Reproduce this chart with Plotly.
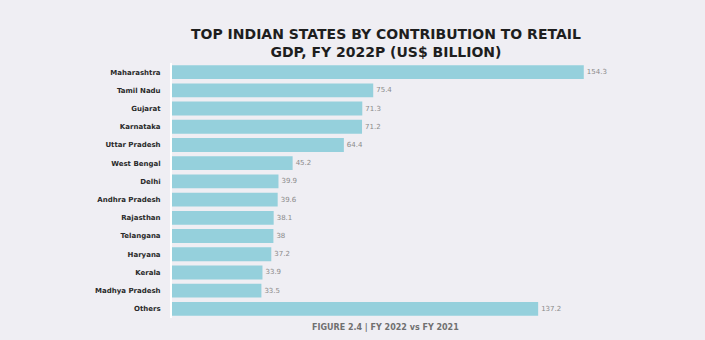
import plotly.graph_objects as go

states = ["Maharashtra", "Tamil Nadu", "Gujarat", "Karnataka", "Uttar Pradesh",
          "West Bengal", "Delhi", "Andhra Pradesh", "Rajasthan", "Telangana",
          "Haryana", "Kerala", "Madhya Pradesh", "Others"]
values = [154.3, 75.4, 71.3, 71.2, 64.4, 45.2, 39.9, 39.6, 38.1, 38.0, 37.2, 33.9, 33.5, 137.2]
labels = ["154.3", "75.4", "71.3", "71.2", "64.4", "45.2", "39.9", "39.6", "38.1", "38",
          "37.2", "33.9", "33.5", "137.2"]
title_lines = ["TOP INDIAN STATES BY CONTRIBUTION TO RETAIL", "GDP, FY 2022P (US$ BILLION)"]
caption = "FIGURE 2.4 | FY 2022 vs FY 2021"

fig = go.Figure(go.Bar(
    x=values, y=states, orientation="h",
    marker=dict(color="#95d0dc", line=dict(width=0)),
    text=labels, textposition="outside",
    textfont=dict(size=7, color="#8a8a8a", family="DejaVu Sans"),
    cliponaxis=False,
))

fig.update_layout(
    width=705, height=340,
    margin=dict(l=172, r=106, t=63, b=22),
    paper_bgcolor="#efeef3", plot_bgcolor="#efeef3",
    bargap=0.24,
    showlegend=False,
    xaxis=dict(range=[0, 160], visible=False),
    yaxis=dict(autorange="reversed", showgrid=False, zeroline=False,
               tickfont=dict(size=7, color="#2a2a2a", family="DejaVu Sans", weight="bold"),
               ticks="", ticklabelstandoff=8,
               showline=True, linecolor="#ffffff", linewidth=2),
    annotations=[
        dict(text="<b>%s<br>%s</b>" % (title_lines[0], title_lines[1]), xref="paper", yref="paper",
             x=0.5, y=1.08, xanchor="center", yanchor="middle", showarrow=False,
             font=dict(size=14, color="#1e1e1e", family="DejaVu Sans")),
        dict(text="<b>%s</b>" % caption, xref="paper", yref="paper",
             x=0.5, y=-0.01, xanchor="center", yanchor="top", showarrow=False,
             font=dict(size=8, color="#707070", family="DejaVu Sans")),
    ],
)

fig.write_html("out.html")
